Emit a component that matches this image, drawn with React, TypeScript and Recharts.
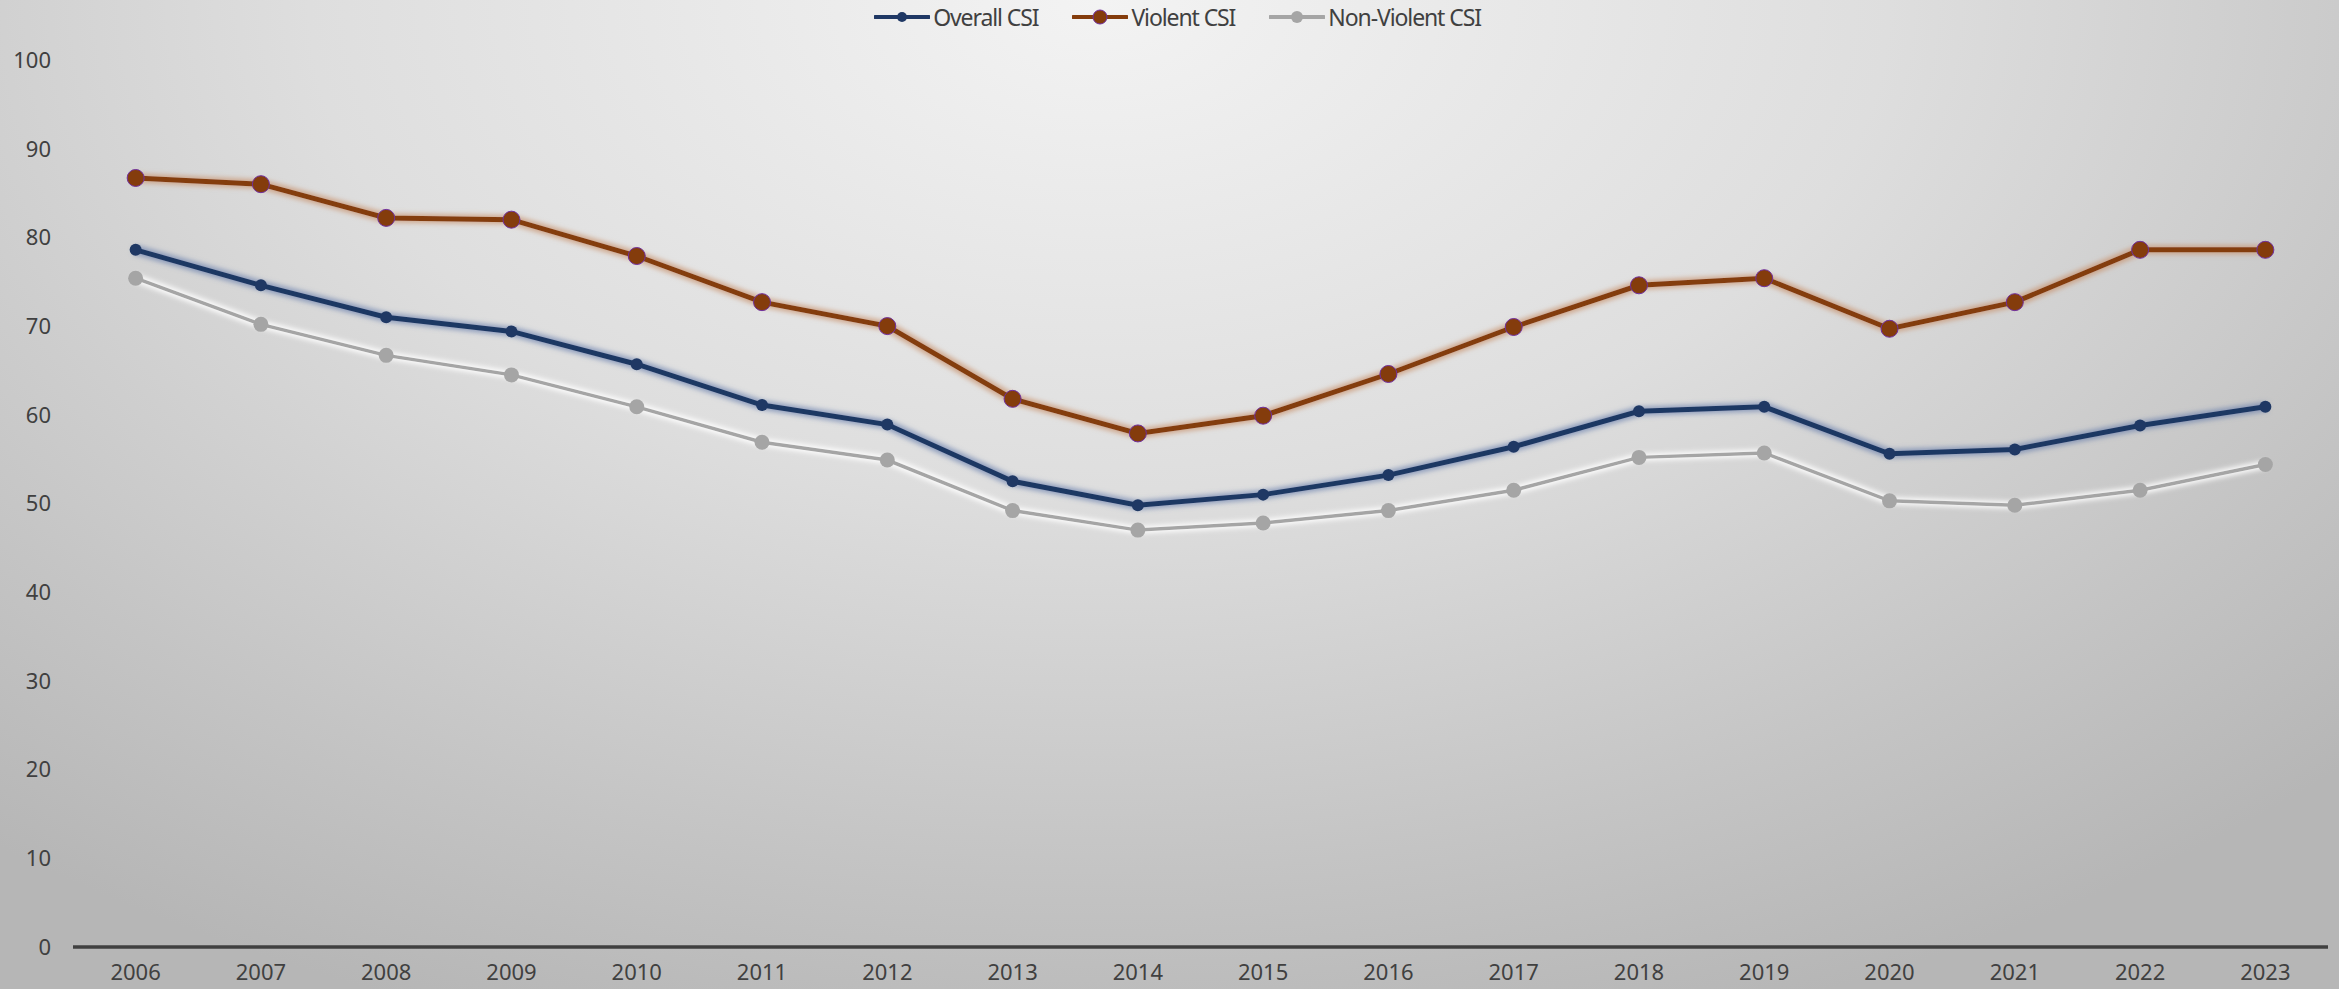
import React from 'react'
import { LineChart, Line, XAxis, YAxis } from 'recharts'

const years = ['2006', '2007', '2008', '2009', '2010', '2011', '2012', '2013', '2014', '2015', '2016', '2017', '2018', '2019', '2020', '2021', '2022', '2023']
const overallCsi = [78.6, 74.6, 71.0, 69.4, 65.7, 61.1, 58.9, 52.5, 49.8, 51.0, 53.2, 56.4, 60.4, 60.9, 55.6, 56.1, 58.8, 60.9]
const violentCsi = [86.7, 86.0, 82.2, 82.0, 77.9, 72.7, 70.0, 61.8, 57.9, 59.9, 64.6, 69.9, 74.6, 75.4, 69.7, 72.7, 78.6, 78.6]
const nonViolentCsi = [75.4, 70.2, 66.7, 64.5, 60.9, 56.9, 54.9, 49.2, 47.0, 47.8, 49.2, 51.5, 55.2, 55.7, 50.3, 49.8, 51.5, 54.4]
const yTicks = [0, 10, 20, 30, 40, 50, 60, 70, 80, 90, 100]

const data = years.map((y, i) => ({
  year: y,
  overall: overallCsi[i],
  violent: violentCsi[i],
  nonViolent: nonViolentCsi[i],
}))

const FONT = '"Noto Sans", "Open Sans", sans-serif'
const TEXT = '#404040'

const legendItems = [
  { label: 'Overall CSI', color: '#1f3864', r: 5, stroke: 'none' },
  { label: 'Violent CSI', color: '#843c0c', r: 7, stroke: '#7030a0' },
  { label: 'Non-Violent CSI', color: '#a5a5a5', r: 6, stroke: 'none' },
]

function GlowFilter({ id, color, opacity }: { id: string; color: string; opacity: number }) {
  return (
    <filter id={id} x="-5%" y="-10%" width="110%" height="120%">
      <feMorphology in="SourceAlpha" operator="dilate" radius="2" result="d" />
      <feGaussianBlur in="d" stdDeviation="2.5" result="b" />
      <feFlood floodColor={color} floodOpacity={opacity} />
      <feComposite in2="b" operator="in" result="glow" />
      <feMerge>
        <feMergeNode in="glow" />
        <feMergeNode in="SourceGraphic" />
      </feMerge>
    </filter>
  )
}

export default function App() {
  return (
    <div
      style={{
        position: 'absolute',
        left: 0,
        top: 0,
        width: 2339,
        height: 989,
        overflow: 'hidden',
        background: 'radial-gradient(ellipse 75% 110% at 47% 0%, #f3f3f3 0%, #dedede 45%, #c4c4c4 80%, #b6b6b6 100%)',
        fontFamily: FONT,
      }}
    >
      <style>{`
        .glow-blue { filter: url(#glowBlue); }
        .glow-brown { filter: url(#glowBrown); }
        .glow-grey { filter: url(#glowGrey); }
      `}</style>
      <svg width={0} height={0} style={{ position: 'absolute' }}>
        <defs>
          <GlowFilter id="glowBlue" color="#5b74a8" opacity={0.6} />
          <GlowFilter id="glowBrown" color="#c8906a" opacity={0.7} />
          <GlowFilter id="glowGrey" color="#ffffff" opacity={0.9} />
        </defs>
      </svg>

      <div
        style={{
          position: 'absolute',
          top: 2,
          left: 0,
          width: 2339,
          height: 30,
          display: 'flex',
          justifyContent: 'center',
          alignItems: 'center',
          gap: 34,
          paddingLeft: 16,
          boxSizing: 'border-box',
        }}
      >
        {legendItems.map(it => (
          <div key={it.label} style={{ display: 'flex', alignItems: 'center' }}>
            <svg width={56} height={18}>
              <line x1={1} y1={9} x2={55} y2={9} stroke={it.color} strokeWidth={4} strokeLinecap="round" />
              <circle cx={28} cy={9} r={it.r} fill={it.color} stroke={it.stroke} strokeWidth={it.stroke === 'none' ? 0 : 1} />
            </svg>
            <span style={{ fontSize: 23, color: TEXT, marginLeft: 3, letterSpacing: -1.1 }}>{it.label}</span>
          </div>
        ))}
      </div>

      <LineChart
        width={2339}
        height={989}
        data={data}
        margin={{ top: 60, right: 11, bottom: 0, left: 0 }}
      >
        <XAxis
          dataKey="year"
          scale="band"
          tickLine={false}
          axisLine={{ stroke: '#404040', strokeWidth: 3.5 }}
          tick={{ fontSize: 22, fill: TEXT, fontFamily: FONT }}
          tickMargin={11}
          interval={0}
          height={42}
        />
        <YAxis
          domain={[0, 100]}
          ticks={yTicks}
          axisLine={false}
          tickLine={false}
          tickSize={0}
          tickMargin={22}
          width={73}
          interval={0}
          tick={{ fontSize: 22, fill: TEXT, fontFamily: FONT }}
        />
        <Line
          className="glow-grey"
          type="linear"
          dataKey="nonViolent"
          name="Non-Violent CSI"
          stroke="#a5a5a5"
          strokeWidth={3.5}
          dot={{ r: 7.5, fill: '#a5a5a5', stroke: 'none' }}
          isAnimationActive={false}
        />
        <Line
          className="glow-blue"
          type="linear"
          dataKey="overall"
          name="Overall CSI"
          stroke="#1f3864"
          strokeWidth={5}
          dot={{ r: 6, fill: '#1f3864', stroke: 'none' }}
          isAnimationActive={false}
        />
        <Line
          className="glow-brown"
          type="linear"
          dataKey="violent"
          name="Violent CSI"
          stroke="#843c0c"
          strokeWidth={5}
          dot={{ r: 8.5, fill: '#843c0c', stroke: '#7030a0', strokeWidth: 1 }}
          isAnimationActive={false}
        />
      </LineChart>
    </div>
  )
}
